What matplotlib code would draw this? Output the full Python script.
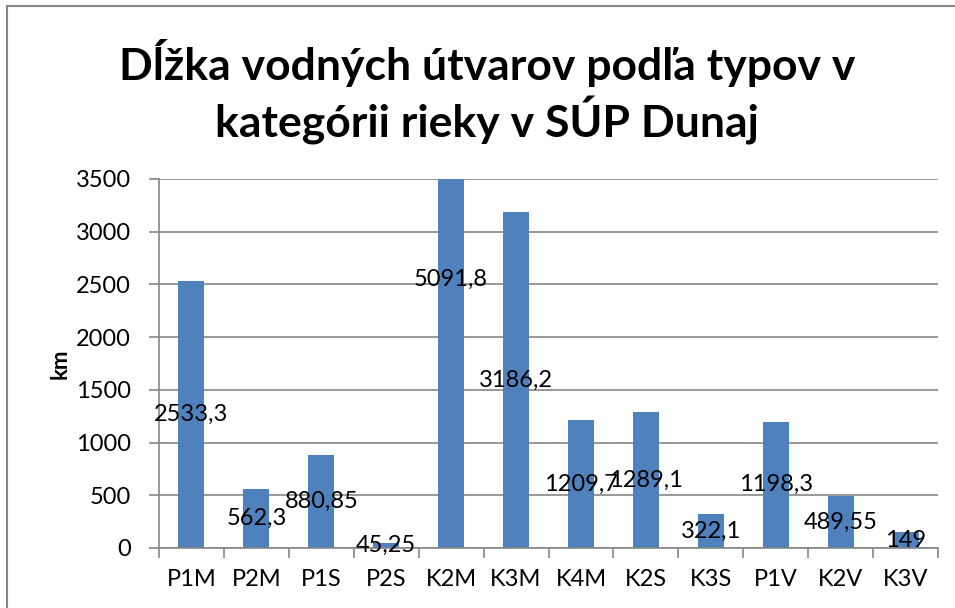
import matplotlib.pyplot as plt
from matplotlib.lines import Line2D

categories = ["P1M", "P2M", "P1S", "P2S", "K2M", "K3M", "K4M", "K2S", "K3S", "P1V", "K2V", "K3V"]
lengths_km = [2533.3, 562.3, 880.85, 45.25, 5091.8, 3186.2, 1209.7, 1289.1, 322.1, 1198.3, 489.55, 149]
yticks = [0, 500, 1000, 1500, 2000, 2500, 3000, 3500]

plt.rcParams['font.family'] = ['Lato', 'DejaVu Sans']

grey = "#868686"
blue = "#4F81BD"

fig = plt.figure(figsize=(9.55, 6.08), dpi=100)
ax = fig.add_axes([159 / 955, 60 / 608, (938 - 159) / 955, (548 - 179) / 608])

x = range(len(categories))
ax.bar(x, lengths_km, width=0.4, color=blue, zorder=2)

for i, v in enumerate(lengths_km):
    ax.text(i, v / 2, f"{v:g}".replace(".", ","), ha="center", va="center",
            fontsize=17, color="black", zorder=3)

ax.set_xlim(-0.5, len(categories) - 0.5)
ax.set_ylim(0, 3500)
ax.set_yticks(yticks)
ax.set_xticks(list(x))
ax.set_xticklabels(categories, fontsize=17)
ax.set_xticks([i - 0.5 for i in range(len(categories) + 1)], minor=True)
ax.tick_params(axis="x", which="major", length=0, pad=15)
ax.tick_params(axis="x", which="minor", length=7, color=grey, width=1.2)
ax.tick_params(axis="y", length=7, color=grey, width=1.2, pad=13, labelsize=17)

ax.yaxis.grid(True, color=grey, linewidth=1.2, zorder=0)
ax.set_axisbelow(True)
for s in ["top", "right"]:
    ax.spines[s].set_visible(False)
for s in ["left", "bottom"]:
    ax.spines[s].set_color(grey)
    ax.spines[s].set_linewidth(1.2)

ax.set_ylabel("km", fontsize=16, fontweight="bold", labelpad=4)

fig.text(487 / 955, 1 - 92 / 608,
         "Dĺžka vodných útvarov podľa typov v\nkategórii rieky v SÚP Dunaj",
         ha="center", va="center", fontsize=32, fontweight="bold", linespacing=1.2)

# chart border (cropped on the right and bottom)
fig.add_artist(Line2D([6.5 / 955, 6.5 / 955], [0, 1 - 5.5 / 608], color=grey, linewidth=1.5))
fig.add_artist(Line2D([6.5 / 955, 1], [1 - 5.5 / 608, 1 - 5.5 / 608], color=grey, linewidth=1.5))

fig.savefig("out.png", dpi=100)
